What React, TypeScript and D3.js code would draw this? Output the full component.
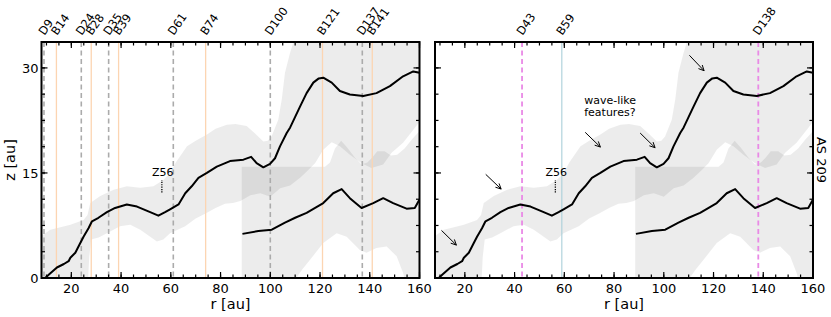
import * as d3 from 'd3';

// upper emission surface (black curve)
const upperR = [9.5, 11, 14.2, 17, 18.9, 19.6, 21.6, 23.6, 24.9, 26.9, 28.3, 30.9, 34.3, 37.6, 42.3, 46.4, 51.7, 55, 57.7, 59.7, 63.1, 65.8, 68.4, 71.1, 74.5, 78.5, 83.8, 89.2, 92.3, 94.5, 97.2, 99.9, 101.9, 103.9, 106.6, 108, 110, 112, 114.6, 117.3, 119.5, 121.3, 124.7, 128, 132, 137.4, 142.7, 148.1, 153.4, 157.5, 160];
const upperZ = [0, 0.5, 1.5, 2.0, 2.4, 2.9, 3.6, 5.0, 5.9, 7.1, 8.1, 8.6, 9.4, 10.0, 10.5, 10.2, 9.4, 8.9, 9.4, 9.8, 10.5, 12.1, 13.1, 14.3, 15.0, 15.9, 16.7, 16.9, 17.3, 16.4, 15.8, 16.3, 17.1, 18.8, 20.7, 21.5, 23.0, 24.5, 26.4, 27.9, 28.5, 28.6, 27.9, 26.7, 26.2, 26.0, 26.4, 27.4, 28.8, 29.5, 29.3];

// lower surface (black curve)
const lowerR = [88.8, 95.2, 100.6, 105.9, 110, 114.6, 121.3, 125.3, 128.7, 132, 136.7, 141.4, 145.4, 149.4, 154.8, 158.1, 160];
const lowerZ = [6.3, 6.7, 6.9, 7.9, 8.6, 9.3, 10.7, 12.1, 12.7, 11.4, 10.0, 10.7, 11.4, 10.7, 9.9, 10.0, 11.2];

// uncertainty band of the upper surface
const band1TopR = [8, 11.5, 16, 19.6, 24.9, 26.5, 27.6, 31.6, 37, 42.3, 47.7, 53, 57, 59.7, 62, 66.5, 70, 74.5, 78, 82.5, 86, 90.5, 94, 97.2, 99, 100.5, 103.2, 104.6, 105.9, 107.9, 110, 115, 160];
const band1TopZ = [6.0, 6.9, 7.3, 7.6, 8.3, 9.0, 10.7, 11.7, 12.6, 13.1, 12.9, 13.1, 14.0, 15.0, 16.5, 18.8, 19.6, 20.5, 21.3, 21.9, 22.0, 21.7, 20.6, 19.5, 19.6, 20.2, 22.6, 25.5, 29.3, 32.1, 34.5, 36, 36];
const band1BotR = [8, 26.5, 27.2, 28, 31, 34.3, 39.6, 43.7, 47.7, 51.7, 54.4, 57, 59.7, 61, 65.8, 70, 74, 78, 81.8, 85, 88, 92, 96, 100, 104, 108, 112, 115, 118, 121.3, 124.7, 128, 132, 136.7, 140.7, 145.4, 148.8, 153.4, 158, 160];
const band1BotZ = [-2, -2, 3, 5.5, 5.8, 6.4, 7.4, 7.6, 6.9, 5.9, 5.2, 5.5, 6.4, 6.6, 7.4, 8.5, 9.2, 10.0, 10.6, 10.7, 11.0, 11.8, 12.1, 11.6, 12.8, 13.2, 14.3, 15.3, 16.4, 18.3, 19.4, 18.8, 17.6, 16.4, 15.7, 16.2, 17.9, 19.3, 21.4, 22.3];

// uncertainty band of the lower surface
const band2TopR = [88.5, 122, 124, 126, 128.5, 131, 134, 136.7, 139, 141, 143, 146, 148.5, 151, 154, 157, 160];
const band2TopZ = [15.9, 15.9, 16.5, 18.5, 19.6, 18.6, 17.2, 16.2, 16.5, 17.2, 18.1, 18.1, 17.5, 17.6, 18.5, 19.8, 21.0];
const band2BotR = [88.5, 109, 110.4, 113, 116, 121.3, 126.7, 130.7, 136, 138.7, 142.7, 146.8, 150.8, 153.4, 154.7, 160];
const band2BotZ = [-2, -2, 0, 1.3, 2.6, 5.0, 6.4, 5.9, 4.0, 3.6, 4.3, 4.5, 3.1, 0.7, -1, -2];

// rings (B) and gaps (D)
const leftFeatR = [9, 14, 24, 28, 35, 39, 61, 74, 100, 121, 137, 141];
const leftFeatLabels = ['D9', 'B14', 'D24', 'B28', 'D35', 'B39', 'D61', 'B74', 'D100', 'B121', 'D137', 'B141'];
const rightFeatR = [43, 59, 138];
const rightFeatLabels = ['D43', 'B59', 'D138'];

// arrows in the right panel
const arrowR0 = [10.6, 28.4, 68.4, 90.5, 110.3];
const arrowZ0 = [6.8, 14.8, 20.8, 20.7, 31.8];
const arrowR1 = [16.6, 34.6, 74.5, 96.5, 116.2];
const arrowZ1 = [4.7, 12.7, 18.7, 18.6, 29.6];

const xMajor = [20, 40, 60, 80, 100, 120, 140, 160];
const yMajor = [0, 15, 30];

const FONT = 'DejaVu Sans, sans-serif';
const y = d3.scaleLinear().domain([0, 33.7]).range([278, 42]);
const yTop = 42, yBot = 278;

function zip(r: number[], z: number[]) {
  return r.map((v, i) => [v, z[i]] as [number, number]);
}

function Panel({ x0, x1, id, right }: { x0: number; x1: number; id: string; right: boolean }) {
  const x = d3.scaleLinear().domain([8, 160]).range([x0, x1]);
  const line = d3.line<[number, number]>().x((d) => x(d[0])).y((d) => y(d[1]));
  const band = (tr: number[], tz: number[], br: number[], bz: number[]) =>
    line(zip(tr, tz).concat(zip(br, bz).reverse())) + 'Z';

  const featR = right ? rightFeatR : leftFeatR;
  const featL = right ? rightFeatLabels : leftFeatLabels;
  const xMinor = d3.range(10, 161, 5);
  const yMinor = d3.range(0, 33.7, 3.75);

  const featStyle = (lab: string) => {
    if (right) {
      return lab[0] === 'D'
        ? { stroke: '#e98ae6', width: 1.8, dash: '5,3.5' }
        : { stroke: '#aacfd9', width: 1.1, dash: undefined };
    }
    return lab[0] === 'D'
      ? { stroke: '#ababab', width: 1.6, dash: '5,3.5' }
      : { stroke: '#fcd5b2', width: 1.3, dash: undefined };
  };

  return (
    <g>
      <defs>
        <clipPath id={id}>
          <rect x={x0} y={yTop} width={x1 - x0} height={yBot - yTop} />
        </clipPath>
      </defs>
      <g clipPath={`url(#${id})`}>
        <path d={band(band1TopR, band1TopZ, band1BotR, band1BotZ)} fill="#000" fillOpacity={0.075} />
        <path d={band(band2TopR, band2TopZ, band2BotR, band2BotZ)} fill="#000" fillOpacity={0.075} />
        {featR.map((r, i) => {
          const s = featStyle(featL[i]);
          return (
            <line key={i} x1={x(r)} x2={x(r)} y1={yTop} y2={yBot} stroke={s.stroke}
              strokeWidth={s.width} strokeDasharray={s.dash} />
          );
        })}
        <path d={line(zip(upperR, upperZ)) || ''} fill="none" stroke="#000" strokeWidth={2} strokeLinejoin="round" />
        <path d={line(zip(lowerR, lowerZ)) || ''} fill="none" stroke="#000" strokeWidth={2} strokeLinejoin="round" />
        {/* Z56 marker */}
        <line x1={x(56.4)} x2={x(56.4)} y1={y(12.2)} y2={y(14.0)} stroke="#000" strokeWidth={1.3} strokeDasharray="1.2,1.2" />
        {right &&
          arrowR0.map((r, i) => {
            const ax = x(r), ay = y(arrowZ0[i]);
            const bx = x(arrowR1[i]), by = y(arrowZ1[i]);
            const ang = Math.atan2(by - ay, bx - ax);
            const h = 6, a = 0.45;
            const p1 = [bx - h * Math.cos(ang - a), by - h * Math.sin(ang - a)];
            const p2 = [bx - h * Math.cos(ang + a), by - h * Math.sin(ang + a)];
            return (
              <g key={i} stroke="#000" strokeWidth={1} fill="none">
                <line x1={ax} y1={ay} x2={bx} y2={by} />
                <path d={`M${p1[0]},${p1[1]}L${bx},${by}L${p2[0]},${p2[1]}`} />
              </g>
            );
          })}
      </g>
      <text x={x(56.8)} y={y(14.5)} fontSize={11} textAnchor="middle" fontFamily={FONT}>Z56</text>
      {right && (
        <text fontSize={11} fontFamily={FONT}>
          <tspan x={x(68)} y={y(24.8)}>wave-like</tspan>
          <tspan x={x(68)} y={y(23.1)}>features?</tspan>
        </text>
      )}
      {/* feature labels */}
      {featR.map((r, i) => (
        <text key={i} transform={`translate(${x(r) + 0.5},${yTop - 6}) rotate(-55)`} fontSize={11.5} fontFamily={FONT}>
          {featL[i]}
        </text>
      ))}
      {/* ticks */}
      <g stroke="#000" strokeWidth={1.2}>
        {xMinor.map((t) => (
          <g key={'xm' + t}>
            <line x1={x(t)} x2={x(t)} y1={yBot} y2={yBot - 3.5} />
            <line x1={x(t)} x2={x(t)} y1={yTop} y2={yTop + 3.5} />
          </g>
        ))}
        {xMajor.map((t) => (
          <g key={'xM' + t}>
            <line x1={x(t)} x2={x(t)} y1={yBot} y2={yBot - 6} />
            <line x1={x(t)} x2={x(t)} y1={yTop} y2={yTop + 6} />
          </g>
        ))}
        {yMinor.map((t) => (
          <g key={'ym' + t}>
            <line x1={x0} x2={x0 + 3.5} y1={y(t)} y2={y(t)} />
            <line x1={x1} x2={x1 - 3.5} y1={y(t)} y2={y(t)} />
          </g>
        ))}
        {yMajor.map((t) => (
          <g key={'yM' + t}>
            <line x1={x0} x2={x0 + 6} y1={y(t)} y2={y(t)} />
            <line x1={x1} x2={x1 - 6} y1={y(t)} y2={y(t)} />
          </g>
        ))}
      </g>
      <rect x={x0} y={yTop} width={x1 - x0} height={yBot - yTop} fill="none" stroke="#000" strokeWidth={2} />
      {xMajor.map((t) => (
        <text key={'xl' + t} x={x(t)} y={yBot + 15} fontSize={13} textAnchor="middle" fontFamily={FONT}>{t}</text>
      ))}
      {!right &&
        yMajor.map((t) => (
          <text key={'yl' + t} x={x0 - 3} y={y(t) + 4.6} fontSize={13} textAnchor="end" fontFamily={FONT}>{t}</text>
        ))}
      <text x={(x0 + x1) / 2} y={309} fontSize={14.5} textAnchor="middle" fontFamily={FONT}>r [au]</text>
    </g>
  );
}

export default function App() {
  return (
    <svg width={831} height={317} style={{ position: 'absolute', left: 0, top: 0, background: '#fff' }}>
      <rect width={831} height={317} fill="#fff" />
      <Panel x0={41.5} x1={419.5} id="clipL" right={false} />
      <Panel x0={435} x1={813} id="clipR" right={true} />
      <text transform="translate(15,160) rotate(-90)" fontSize={14.5} textAnchor="middle" fontFamily={FONT}>z [au]</text>
      <text transform="translate(817,160) rotate(90)" fontSize={13} textAnchor="middle" fontFamily={FONT}>AS 209</text>
    </svg>
  );
}
